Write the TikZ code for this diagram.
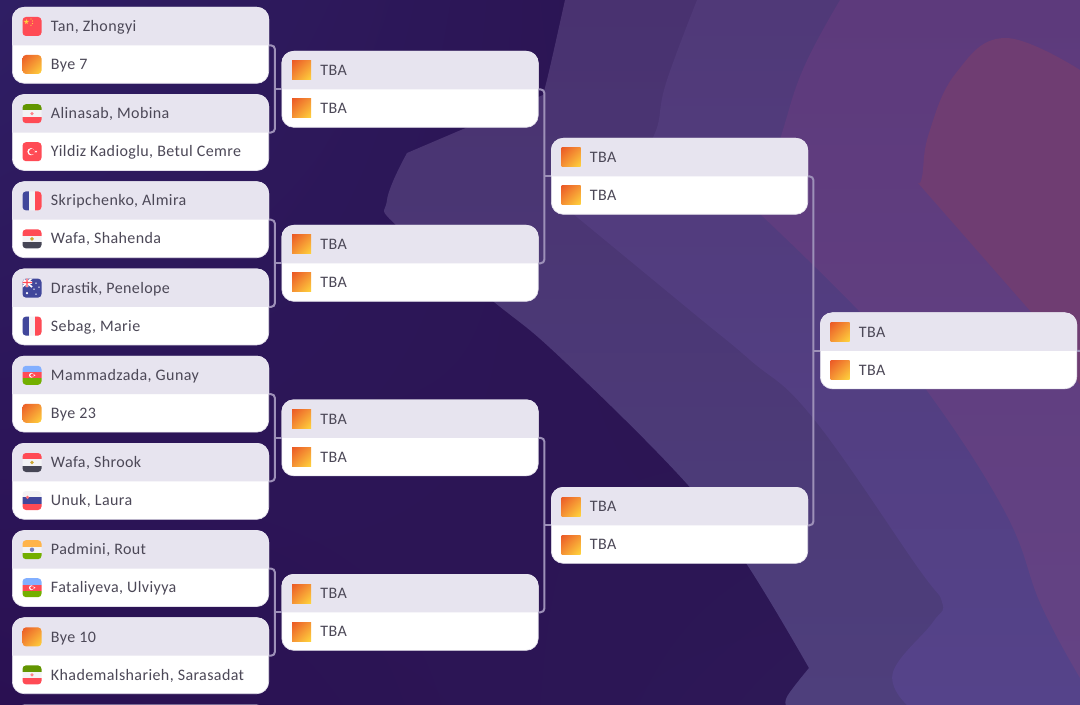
\documentclass[tikz,border=0pt]{standalone}
\usepackage{fontspec}
\usetikzlibrary{shadings}
\setmainfont[LetterSpace=2.5]{Carlito}
\definecolor{bgtl}{HTML}{2F1E64}
\definecolor{bgtr}{HTML}{280C46}
\definecolor{bgbl}{HTML}{2A1052}
\definecolor{bgbr}{HTML}{2E1B58}
\definecolor{tieronetop}{HTML}{493270}
\definecolor{tieronebot}{HTML}{4E3F7C}
\definecolor{tiertwotop}{HTML}{503978}
\definecolor{tiertwobot}{HTML}{55438A}
\definecolor{tierthreetop}{HTML}{5D3A7C}
\definecolor{tierthreebot}{HTML}{644384}
\definecolor{tierpink}{HTML}{6F3D72}
\definecolor{rowtop}{HTML}{E7E4EF}
\definecolor{cardedge}{HTML}{E2DFEA}
\definecolor{nametext}{HTML}{4C4857}
\definecolor{linkcol}{HTML}{9D90B8}
\definecolor{flagred}{HTML}{FF4B55}
\definecolor{flagblue}{HTML}{41479B}
\definecolor{flaggreen}{HTML}{73AF00}
\definecolor{flagsky}{HTML}{82AFFF}
\definecolor{flagdark}{HTML}{464655}
\definecolor{flagwhite}{HTML}{F3F3F5}
\definecolor{flagorange}{HTML}{FFB44A}
\definecolor{flaggold}{HTML}{FFD23F}
\definecolor{byedark}{HTML}{EB5A26}
\definecolor{byemid}{HTML}{F59435}
\definecolor{byelight}{HTML}{FFD63C}
\newcommand{\bands}[3]{\fill[#1] (-10,-10) rectangle (10,-3.2); \fill[#2] (-10,-3.2) rectangle (10,3.2); \fill[#3] (-10,3.2) rectangle (10,10);}
\newcommand{\crescent}[3]{\fill[white] (#1,0) circle (#2); \fill[#3] (#1+0.25*#2,0) circle (0.8*#2);}
\begin{document}
\begin{tikzpicture}[
    x=0.75pt, y=-0.75pt,
    card/.style={rectangle, draw=cardedge, line width=0.5pt, fill=white, rounded corners=9pt, anchor=north west, minimum width=192.3pt, minimum height=57pt, inner sep=0pt},
    playername/.style={anchor=west, inner sep=0pt, yshift=-1.2pt, text=nametext, font=\fontsize{12}{14}\selectfont, text height=1.5ex, text depth=0.4ex},
    link/.style={draw=linkcol, line width=1.5pt, rounded corners=3pt},
    flagbox/.style={rectangle, rounded corners=2.6pt, minimum size=14.25pt, inner sep=0pt},
    flagart/.style={flagbox, path picture={\begin{scope}[sharp corners, shift={(path picture bounding box.center)}] #1 \end{scope}}},
    flagbye/.style={flagbox, shade, upper left=byedark, lower right=byelight, upper right=byemid, lower left=byemid},
    flagtba/.style={flagbye, rounded corners=0pt},
    flagfr/.style={flagart={\fill[flagwhite] (-10,-10) rectangle (10,10); \fill[flagblue] (-10,-10) rectangle (-3.2,10); \fill[flagred] (3.2,-10) rectangle (10,10);}},
    flagcn/.style={flagart={\fill[flagred] (-10,-10) rectangle (10,10); \fill[flaggold] (-5.5,-7.5) -- (-4.2,-2.5) -- (-8.5,-5.6) -- (-2.8,-5.6) -- (-6.9,-2.5) -- cycle; \fill[flaggold] (-1,-7.5) circle (0.6) (0.5,-5.5) circle (0.6) (0.5,-3) circle (0.6) (-1,-1.2) circle (0.6);}},
    flagir/.style={flagart={\bands{flaggreen!85!black}{flagwhite}{flagred} \fill[flagred!70] (0,0) circle (1.8);}},
    flagtr/.style={flagart={\fill[flagred] (-10,-10) rectangle (10,10); \crescent{-1}{3.6}{flagred} \fill[white] (4,0) circle (1);}},
    flageg/.style={flagart={\bands{flagred}{flagwhite}{flagdark} \fill[flaggold!80!black] (0,0) circle (1.9);}},
    flagau/.style={flagart={\fill[flagblue] (-10,-10) rectangle (10,10); \draw[white, line width=1.3pt] (-10,-10) -- (0,-1) (0,-10) -- (-10,-1); \fill[white] (-6.4,-10) rectangle (-3.6,-1) (-10,-6.9) rectangle (0,-4.1); \fill[flagred] (-5.6,-10) rectangle (-4.4,-1) (-10,-6.1) rectangle (0,-4.9); \fill[white] (-5,5) circle (1.2) (4,-5) circle (0.8) (7,-1) circle (0.8) (2,1) circle (0.8) (4,6) circle (0.8);}},
    flagaz/.style={flagart={\bands{flagsky}{flagred}{flaggreen} \crescent{-0.6}{2.4}{flagred} \fill[white] (2.6,0) circle (0.8);}},
    flagsi/.style={flagart={\bands{flagwhite}{flagblue}{flagred} \fill[flagred!80] (-4.5,-3.2) circle (1.7);}},
    flagin/.style={flagart={\bands{flagorange}{flagwhite}{flaggreen} \fill[flagblue!70] (0,0) circle (2.2);}}
]
  \useasboundingbox (0,0) rectangle (1080,705);
  \shade[upper left=bgtl, upper right=bgtr, lower left=bgbl, lower right=bgbr] (0,0) rectangle (1080,705);
  \shade[top color=tieronetop, bottom color=tieronebot]
    plot[smooth, tension=0.7] coordinates {(565,0) (550,67) (543,95)} -- (407,153)
    -- plot[smooth, tension=0.7] coordinates {(407,153) (387,200) (398,227) (494,302) (563,360) (688,485) (746,563) (809,668)}
    -- plot[smooth, tension=0.7] coordinates {(809,668) (788,695) (786,705)} -- (1080,705) -- (1080,0) -- cycle;
  \shade[top color=tiertwotop, bottom color=tiertwobot]
    plot[smooth, tension=0.7] coordinates {(697,0) (666,83) (655,133) (630,170)} -- (572,213)
    -- plot[smooth, tension=0.7] coordinates {(572,213) (692,312) (750,360) (813,418) (916,565) (942,602) (933,622) (893,672) (907,705)} -- (1080,705) -- (1080,0) -- cycle;
  \shade[top color=tierthreetop, bottom color=tierthreebot]
    plot[smooth, tension=0.7] coordinates {(840,0) (804,67) (782,133) (759,213)}
    -- plot[smooth, tension=0.7] coordinates {(759,213) (858,310) (925,388) (1005,512) (1041,605) (1080,678)} -- (1080,0) -- cycle;
  \fill[tierpink]
    plot[smooth, tension=0.7] coordinates {(1080,70) (1005,38) (956,73) (929,133) (922,177) (918,183)} -- (1032,313) -- (1080,385) -- cycle;
  \foreach \x/\y/\fa/\na/\fb/\nb [count=\i] in {
      12/7/flagcn/{Tan, Zhongyi}/flagbye/{Bye 7},
      12/94.2/flagir/{Alinasab, Mobina}/flagtr/{Yildiz Kadioglu, Betul Cemre},
      12/181.4/flagfr/{Skripchenko, Almira}/flageg/{Wafa, Shahenda},
      12/268.6/flagau/{Drastik, Penelope}/flagfr/{Sebag, Marie},
      12/355.8/flagaz/{Mammadzada, Gunay}/flagbye/{Bye 23},
      12/443/flageg/{Wafa, Shrook}/flagsi/{Unuk, Laura},
      12/530.2/flagin/{Padmini, Rout}/flagaz/{Fataliyeva, Ulviyya},
      12/617.4/flagbye/{Bye 10}/flagir/{Khademalsharieh, Sarasadat},
      281.5/51/flagtba/TBA/flagtba/TBA,
      281.5/225/flagtba/TBA/flagtba/TBA,
      281.5/399.5/flagtba/TBA/flagtba/TBA,
      281.5/574/flagtba/TBA/flagtba/TBA,
      551/138/flagtba/TBA/flagtba/TBA,
      551/487/flagtba/TBA/flagtba/TBA,
      820/312.5/flagtba/TBA/flagtba/TBA} {
    \node[card] (card\i) at (\x,\y) {};
    \fill[rowtop] (card\i.west) [rounded corners=9pt] -- (card\i.north west) -- (card\i.north east) [sharp corners] -- (card\i.east) -- cycle;
    \node[\fa] (flag\i a) at (\x+20,\y+19.5) {};
    \node[\fb] (flag\i b) at (\x+20,\y+57.5) {};
    \node[playername] (name\i a) at (\x+38.7,\y+19.5) {\na};
    \node[playername] (name\i b) at (\x+38.7,\y+57.5) {\nb};
  }
  \node[card, fill=rowtop] (cardnext) at (12,704.6) {};
  \foreach \a/\b/\t in {1/2/9, 3/4/10, 5/6/11, 7/8/12, 9/10/13, 11/12/14, 13/14/15} {
    \coordinate (join\t) at ([xshift=-4.9pt]card\t.west);
    \draw[link] (card\a.east) -- (join\t |- card\a.east) -- (join\t |- card\b.east) -- (card\b.east);
    \draw[link] (join\t) -- (card\t.west);
  }
  \coordinate (exit) at (1084,351);
  \draw[link] (card15.east) -- (exit);
\end{tikzpicture}
\end{document}
